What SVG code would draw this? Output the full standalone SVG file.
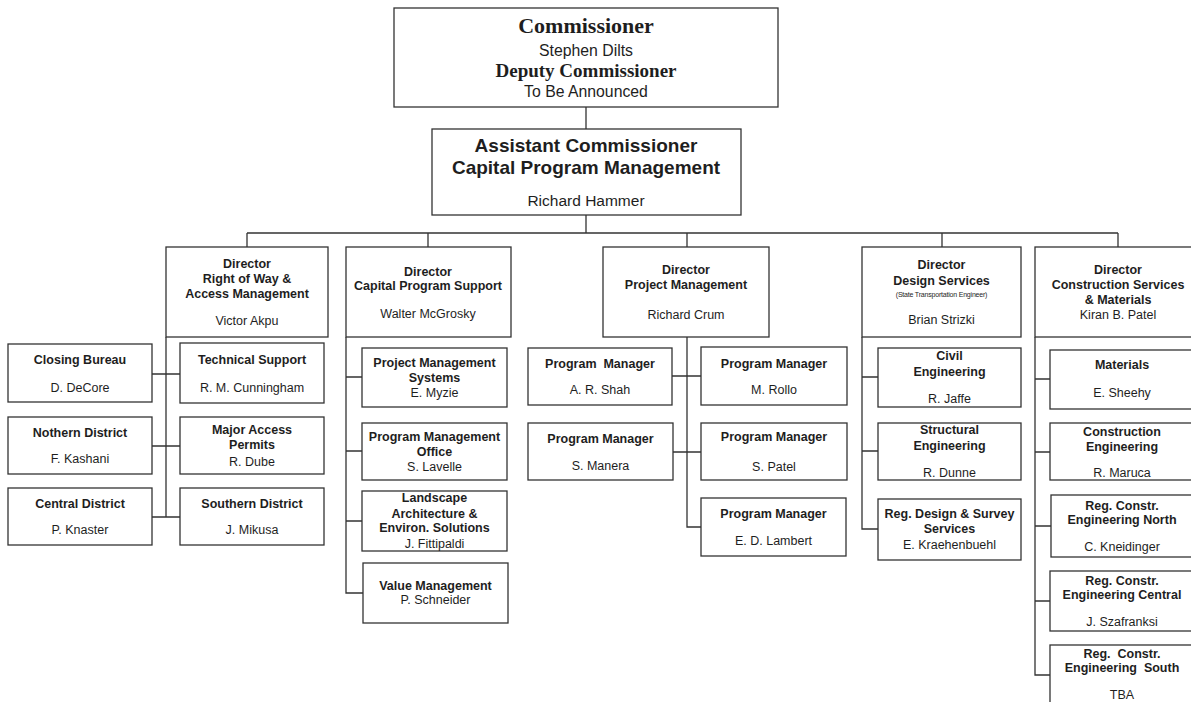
<svg xmlns="http://www.w3.org/2000/svg" width="1191" height="702" viewBox="0 0 1191 702">
<style>
rect{fill:#fff;stroke:#333;stroke-width:1.3}
.c path{fill:none;stroke:#333;stroke-width:1.3}
text{font-family:"Liberation Sans",Arial,sans-serif;font-size:12.5px;text-anchor:middle;fill:#1e1e1e}
.b{font-weight:bold}
.t{font-family:"Liberation Serif","Times New Roman",serif;font-weight:bold}
.p{white-space:pre}
</style>
<rect x="0" y="0" width="1191" height="702" style="fill:#fff;stroke:none"/>
<g class="c" id="connectors">
<path d="M586,107V129M586,215V233M247,233H1118M247,233V247M428,233V247M687,233V247M942,233V247M1118,233V247"/>
<path d="M166,337V517M152,374H180M152,446H180M152,517H180"/>
<path d="M346,337V593H363M346,377H362M346,451H362M346,521H362"/>
<path d="M687,337V527H701M672,376H701M672,452H701"/>
<path d="M862,337V529H878M862,377H878M862,451H878"/>
<path d="M1035,337V675H1050M1035,379H1050M1035,452H1050M1035,526H1051M1035,601H1050"/>
</g>
<g id="commissioner">
<rect x="394" y="8" width="384" height="99"/>
<text x="586" y="33" class="t" style="font-size:22px">Commissioner</text>
<text x="586" y="55.5" style="font-size:15.8px">Stephen Dilts</text>
<text x="586" y="76.5" class="t" style="font-size:19px">Deputy Commissioner</text>
<text x="586" y="96.5" style="font-size:15.8px">To Be Announced</text>
</g>
<g id="assistant">
<rect x="432" y="129" width="309" height="86"/>
<text x="586" y="152" class="b" style="font-size:19px">Assistant Commissioner</text>
<text x="586" y="174" class="b" style="font-size:19px">Capital Program Management</text>
<text x="586" y="205.5" style="font-size:15.5px">Richard Hammer</text>
</g>
<g id="dir-row">
<rect x="166" y="247" width="162" height="90"/>
<text x="247" y="267.5" class="b">Director</text>
<text x="247" y="282.5" class="b">Right of Way &amp;</text>
<text x="247" y="297.5" class="b">Access Management</text>
<text x="247" y="324.5">Victor Akpu</text>
</g>
<g id="closing">
<rect x="8" y="344" width="144" height="58"/>
<text x="80" y="363.5" class="b">Closing Bureau</text>
<text x="80" y="391.5">D. DeCore</text>
</g>
<g id="tech">
<rect x="180" y="343" width="144" height="60"/>
<text x="252" y="363.5" class="b">Technical Support</text>
<text x="252" y="391.5">R. M. Cunningham</text>
</g>
<g id="northern">
<rect x="8" y="417" width="144" height="57"/>
<text x="80" y="436.5" class="b">Nothern District</text>
<text x="80" y="462.5">F. Kashani</text>
</g>
<g id="major">
<rect x="180" y="417" width="144" height="57"/>
<text x="252" y="433.5" class="b">Major Access</text>
<text x="252" y="448.5" class="b">Permits</text>
<text x="252" y="465.5">R. Dube</text>
</g>
<g id="central">
<rect x="8" y="488" width="144" height="57"/>
<text x="80" y="507.5" class="b">Central District</text>
<text x="80" y="533.5">P. Knaster</text>
</g>
<g id="southern">
<rect x="180" y="488" width="144" height="57"/>
<text x="252" y="507.5" class="b">Southern District</text>
<text x="252" y="533.5">J. Mikusa</text>
</g>
<g id="dir-cps">
<rect x="346" y="247" width="165" height="90"/>
<text x="428" y="275.5" class="b">Director</text>
<text x="428" y="289.5" class="b">Capital Program Support</text>
<text x="428" y="317.5">Walter McGrosky</text>
</g>
<g id="pms">
<rect x="362" y="348" width="145" height="59"/>
<text x="434.5" y="366.5" class="b">Project Management</text>
<text x="434.5" y="381.5" class="b">Systems</text>
<text x="434.5" y="396.5">E. Myzie</text>
</g>
<g id="pmo">
<rect x="362" y="423" width="145" height="57"/>
<text x="434.5" y="440.5" class="b">Program Management</text>
<text x="434.5" y="455.5" class="b">Office</text>
<text x="434.5" y="470.5">S. Lavelle</text>
</g>
<g id="landscape">
<rect x="362" y="491" width="145" height="60"/>
<text x="434.5" y="501.5" class="b">Landscape</text>
<text x="434.5" y="517.5" class="b">Architecture &amp;</text>
<text x="434.5" y="531.5" class="b">Environ. Solutions</text>
<text x="434.5" y="547.5">J. Fittipaldi</text>
</g>
<g id="value">
<rect x="363" y="563" width="145" height="60"/>
<text x="435.5" y="589.5" class="b">Value Management</text>
<text x="435.5" y="603.5">P. Schneider</text>
</g>
<g id="dir-pm">
<rect x="603" y="247" width="166" height="90"/>
<text x="686" y="273.5" class="b">Director</text>
<text x="686" y="288.5" class="b">Project Management</text>
<text x="686" y="318.5">Richard Crum</text>
</g>
<g id="shah">
<rect x="528" y="348" width="144" height="57"/>
<text x="600" y="367.5" class="b p">Program  Manager</text>
<text x="600" y="393.5">A. R. Shah</text>
</g>
<g id="manera">
<rect x="528" y="423" width="145" height="57"/>
<text x="600.5" y="442.5" class="b">Program Manager</text>
<text x="600.5" y="469.5">S. Manera</text>
</g>
<g id="rollo">
<rect x="701" y="347" width="146" height="58"/>
<text x="774" y="367.5" class="b">Program Manager</text>
<text x="774" y="393.5">M. Rollo</text>
</g>
<g id="patel">
<rect x="701" y="423" width="146" height="57"/>
<text x="774" y="440.5" class="b">Program Manager</text>
<text x="774" y="470.5">S. Patel</text>
</g>
<g id="lambert">
<rect x="701" y="498" width="145" height="58"/>
<text x="773.5" y="517.5" class="b">Program Manager</text>
<text x="773.5" y="544.5">E. D. Lambert</text>
</g>
<g id="dir-ds">
<rect x="862" y="247" width="159" height="90"/>
<text x="941.5" y="268.5" class="b">Director</text>
<text x="941.5" y="284.5" class="b">Design Services</text>
<text x="941.5" y="296.5" style="font-size:7px;letter-spacing:-0.2px">(State Transportation Engineer)</text>
<text x="941.5" y="323.5">Brian Strizki</text>
</g>
<g id="civil">
<rect x="878" y="348" width="143" height="59"/>
<text x="949.5" y="359.5" class="b">Civil</text>
<text x="949.5" y="375.5" class="b">Engineering</text>
<text x="949.5" y="402.5">R. Jaffe</text>
</g>
<g id="structural">
<rect x="878" y="423" width="143" height="57"/>
<text x="949.5" y="433.5" class="b">Structural</text>
<text x="949.5" y="449.5" class="b">Engineering</text>
<text x="949.5" y="476.5">R. Dunne</text>
</g>
<g id="regdesign">
<rect x="878" y="499" width="143" height="61"/>
<text x="949.5" y="517.5" class="b">Reg. Design &amp; Survey</text>
<text x="949.5" y="532.5" class="b">Services</text>
<text x="949.5" y="548.5">E. Kraehenbuehl</text>
</g>
<g id="dir-csm">
<rect x="1035" y="247" width="168" height="90"/>
<text x="1118" y="273.5" class="b">Director</text>
<text x="1118" y="288.5" class="b">Construction Services</text>
<text x="1118" y="303.5" class="b">&amp; Materials</text>
<text x="1118" y="318.5">Kiran B. Patel</text>
</g>
<g id="materials">
<rect x="1050" y="350" width="150" height="59"/>
<text x="1122" y="368.5" class="b">Materials</text>
<text x="1122" y="396.5">E. Sheehy</text>
</g>
<g id="consteng">
<rect x="1050" y="423" width="150" height="57"/>
<text x="1122" y="435.5" class="b">Construction</text>
<text x="1122" y="450.5" class="b">Engineering</text>
<text x="1122" y="476.5">R. Maruca</text>
</g>
<g id="regnorth">
<rect x="1051" y="495" width="150" height="62"/>
<text x="1122" y="509.5" class="b">Reg. Constr.</text>
<text x="1122" y="523.5" class="b">Engineering North</text>
<text x="1122" y="550.5">C. Kneidinger</text>
</g>
<g id="regcentral">
<rect x="1050" y="571" width="150" height="60"/>
<text x="1122" y="584.5" class="b">Reg. Constr.</text>
<text x="1122" y="598.5" class="b">Engineering Central</text>
<text x="1122" y="625.5">J. Szafranksi</text>
</g>
<g id="regsouth">
<rect x="1050" y="645" width="150" height="70"/>
<text x="1122" y="657.5" class="b p">Reg.  Constr.</text>
<text x="1122" y="671.5" class="b p">Engineering  South</text>
<text x="1122" y="698.5">TBA</text>
</g>
</svg>
